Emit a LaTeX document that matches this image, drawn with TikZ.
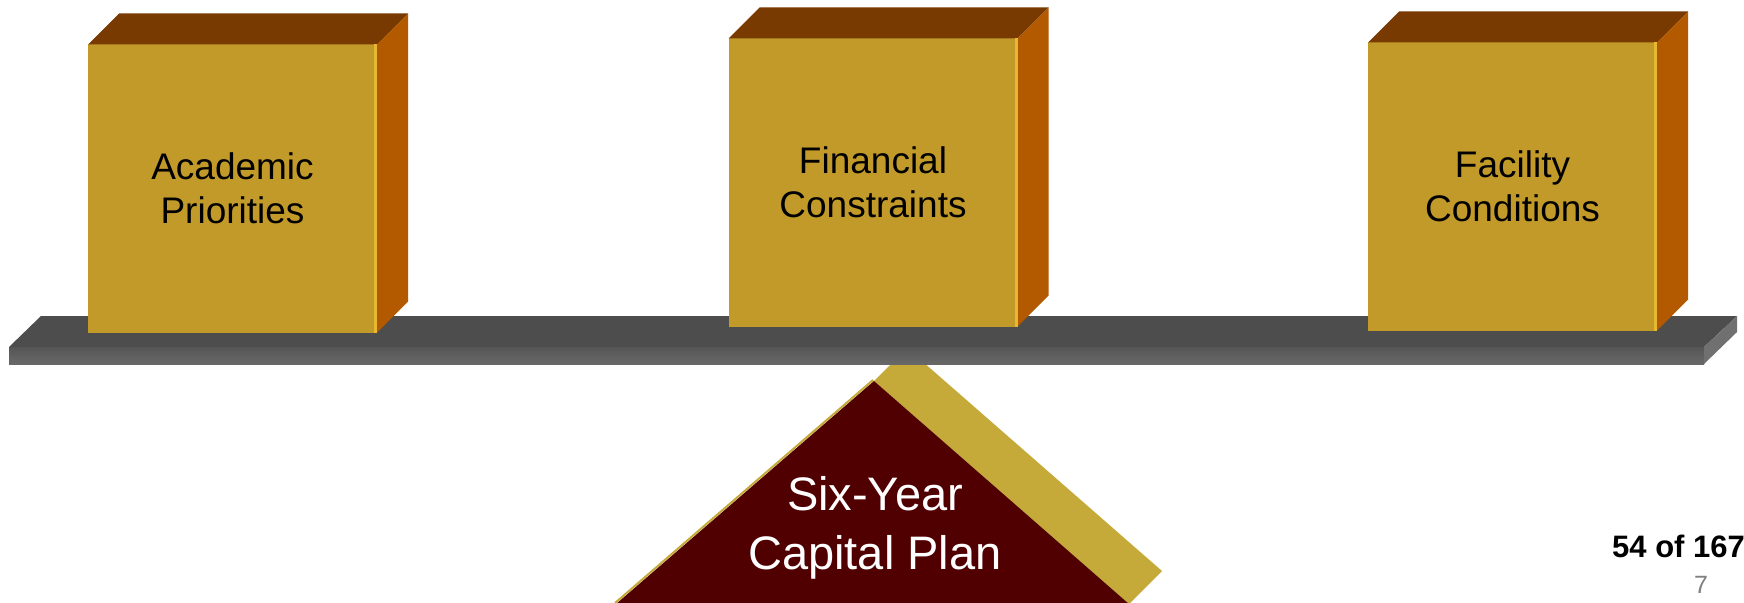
\documentclass[tikz,border=0pt]{standalone}
\usepackage{fontspec}
\setmainfont{Liberation Sans}
\usetikzlibrary{calc}
\definecolor{goldfront}{RGB}{194,154,42}
\definecolor{browntop}{RGB}{120,58,0}
\definecolor{orangeside}{RGB}{179,89,0}
\definecolor{hilite}{RGB}{232,184,48}
\definecolor{beamtop}{RGB}{77,77,77}
\definecolor{beamfronttop}{RGB}{86,86,86}
\definecolor{beamfrontbot}{RGB}{104,104,104}
\definecolor{beamend}{RGB}{112,112,112}
\definecolor{maroon}{RGB}{80,0,0}
\definecolor{goldband}{RGB}{197,170,58}
\definecolor{pagegray}{RGB}{128,128,128}
\tikzset{
  frontface/.style={fill=goldfront, inner sep=0pt, outer sep=0pt,
    minimum width=289pt, minimum height=288pt, align=center,
    font=\fontsize{37}{44}\selectfont, text=black},
  topface/.style={fill=browntop},
  sideface/.style={fill=orangeside},
  stripe/.style={fill=hilite},
  basetext/.style={inner sep=0pt, outer sep=0pt, align=center,
    font=\fontsize{47}{59}\selectfont, text=white},
}
\newcommand\mycubeparts[1]{%
  \fill[topface] (#1.north west) -- ++(31,-31) -- ($(#1.north east)+(31,-31)$) -- (#1.north east) -- cycle;
  \fill[sideface] (#1.north east) -- ++(31,-31) -- ($(#1.south east)+(31,-31)$) -- (#1.south east) -- cycle;
  \fill[stripe] ($(#1.north east)+(-3,0)$) rectangle (#1.south east);
}
\begin{document}
\begin{tikzpicture}[x=1pt,y=-1pt]
\useasboundingbox (0,0) rectangle (1744,602);
\fill[white] (0,0) rectangle (1744,602);
\clip (0,0) rectangle (1744,602);
% fulcrum
\coordinate (A) at (874,381);
\coordinate (B) at (616,604);
\coordinate (C) at (1129,604);
\fill[goldband] (A) -- ($(A)+(33,-33)$) -- ($(C)+(33,-33)$) -- (C) -- cycle;
\draw[goldband, line width=2pt] ($(A)+(-1,-1)$) -- ($(B)+(-1,-1)$);
\fill[maroon] (A) -- (B) -- (C) -- cycle;
\node[basetext] (plan) at (875,528) {Six-Year\\Capital Plan};
% beam
\fill[beamtop] (41,316) -- (1737,316) -- (1704,347) -- (9,347) -- cycle;
\shade[top color=beamfronttop, bottom color=beamfrontbot] (9,347) rectangle (1704,364);
\fill[beamend] (1704,347) -- (1737,316) -- (1737,332) -- (1704,364) -- cycle;
% boxes
\node[frontface] (acad) at (232.5,188.5) {Academic\\Priorities};
\mycubeparts{acad}
\node[frontface] (fin) at (873,182.5) {Financial\\Constraints};
\mycubeparts{fin}
\node[frontface] (fac) at (1512.5,186.5) {Facility\\Conditions};
\mycubeparts{fac}
% page marks
\node[anchor=base west, inner sep=0pt, font=\fontsize{31}{35}\selectfont\bfseries] (pg) at (1612,557) {54 of 167};
\node[anchor=base west, inner sep=0pt, text=pagegray, font=\fontsize{25}{28}\selectfont] (num) at (1694,593) {7};
\end{tikzpicture}
\end{document}
